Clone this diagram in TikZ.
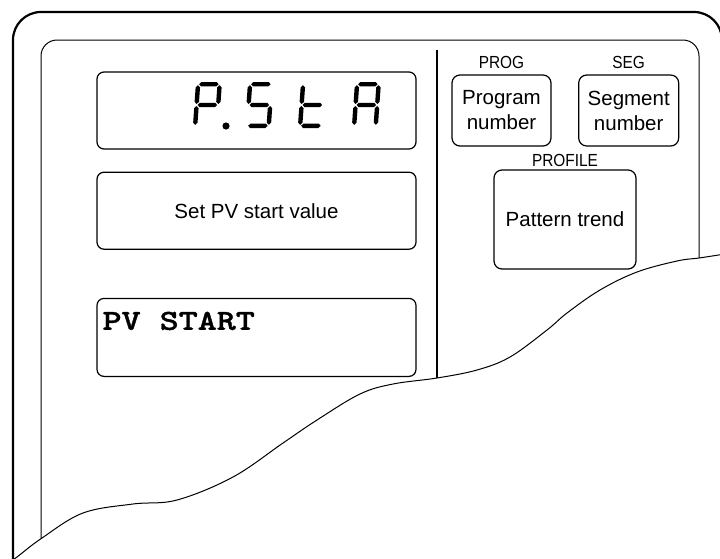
\documentclass[tikz,border=0pt]{standalone}
\usepackage{fontspec}
\setmainfont{Liberation Sans}
\newfontfamily\narrowsf[FakeStretch=0.88]{Liberation Sans}
\newfontfamily\lcdmono[Extension=.otf,FakeStretch=1.25,FakeBold=1.2]{lmmonolt10-bold}
\usetikzlibrary{positioning}
\tikzset{
  panelbox/.style={draw,line width=1.2pt,rounded corners=7pt,inner sep=0pt,align=center,font=\fontsize{20.5}{25}\selectfont},
  keybox/.style={panelbox,rounded corners=8pt},
  keytag/.style={inner sep=0pt,font=\narrowsf\fontsize{17.5}{20}\selectfont},
  lcdtext/.style={inner sep=0pt,font=\lcdmono\fontsize{29}{30}\selectfont},
}
% seven segment pieces, local cell 26 x 46, y down
\newcommand{\hseg}[3]{\fill (#1,#3) -- (#1+2.2,#3-2.2) -- (#2-2.2,#3-2.2) -- (#2,#3) -- (#2-2.2,#3+2.2) -- (#1+2.2,#3+2.2) -- cycle;}
\newcommand{\vseg}[3]{\fill (#1,#2) -- (#1+2.2,#2+2.2) -- (#1+2.2,#3-2.2) -- (#1,#3) -- (#1-2.2,#3-2.2) -- (#1-2.2,#2+2.2) -- cycle;}
\newcommand{\sega}{\hseg{3.2}{22.8}{2.2}}
\newcommand{\segb}{\vseg{23.8}{3.2}{22}}
\newcommand{\segc}{\vseg{23.8}{24}{42.8}}
\newcommand{\segd}{\hseg{3.2}{22.8}{43.8}}
\newcommand{\sege}{\vseg{2.2}{24}{42.8}}
\newcommand{\segf}{\vseg{2.2}{3.2}{22}}
\newcommand{\segg}{\hseg{3.2}{22.8}{23}}
\newcommand{\lcddigit}[2]{\begin{scope}[shift={(#1,82)},xslant=0.07]#2\end{scope}}

\begin{document}
\begin{tikzpicture}[x=1pt,y=-1pt]
  \useasboundingbox (0,0) rectangle (720,558);
  \clip (0,0) rectangle (720,558);
  % frames
  \draw[line width=2.2pt,rounded corners=28pt] (13,580) -- (13,12) -- (722,12) -- (722,580);
  \draw[line width=1pt,rounded corners=16pt] (41,580) -- (41,40) -- (699,40) -- (699,580);
  \draw[line width=2pt] (437,50) -- (437,400);
  % left column
  \node[panelbox,minimum width=319,minimum height=77] (led) at (256.5,110.5) {};
  \node[panelbox,minimum width=319,minimum height=77,below=22pt of led] (guide) {Set PV start value};
  \node[panelbox,minimum width=319,minimum height=78,below=48pt of guide] (pvstart) {};
  \node[lcdtext,anchor=base west] (pvtext) at ([shift={(6,32)}]pvstart.north west) {PV START};
  % LED readout
  \lcddigit{196}{\sega\segb\segf\sege\segg}
  \fill (226,126) circle (3.6);
  \lcddigit{248}{\sega\segf\segg\segc\segd}
  \lcddigit{301}{\segf\sege\segg\segd}
  \lcddigit{355}{\sega\segb\segc\sege\segf\segg}
  % right column
  \node[keybox,minimum width=99,minimum height=71] (prog) at (501.5,110.5) {Program\\number};
  \node[keybox,minimum width=100,minimum height=71,right=26.5pt of prog] (seg) {Segment\\number};
  \node[keybox,minimum width=142,minimum height=99] (trend) at (565,219.5) {Pattern trend};
  \node[keytag,above=6pt of prog] (progtag) {PROG};
  \node[keytag,above=6pt of seg] (segtag) {SEG};
  \node[keytag,above=3pt of trend] (trendtag) {PROFILE};
  % torn edge
  \fill[white] plot[smooth,tension=0.6] coordinates {(10,562) (17,557) (42,538) (83,513) (133,504) (177,500) (233,477) (283,443) (317,420) (360,394) (393,384) (437,378) (477,370) (510,357) (547,330) (567,313) (600,290) (637,272) (677,261) (699,258) (725,254)}
    -- (730,565) -- (10,565) -- cycle;
  \draw[line width=1pt] plot[smooth,tension=0.6] coordinates {(10,562) (17,557) (42,538) (83,513) (133,504) (177,500) (233,477) (283,443) (317,420) (360,394) (393,384) (437,378) (477,370) (510,357) (547,330) (567,313) (600,290) (637,272) (677,261) (699,258) (725,254)};
\end{tikzpicture}
\end{document}
